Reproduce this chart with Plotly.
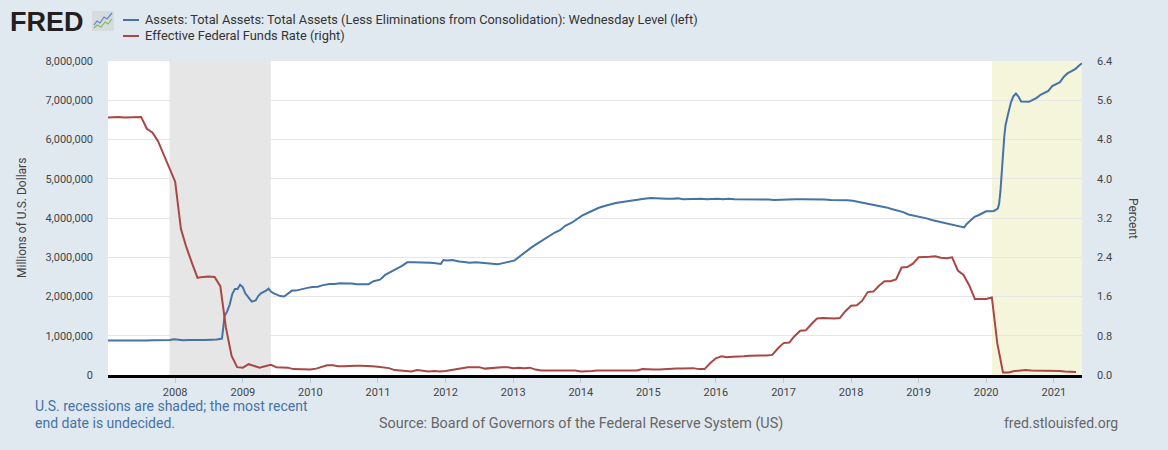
import pandas as pd
import plotly.graph_objects as go

# ---------------- data ----------------
asset_dates = [
    "2007-01-03", "2007-02-07", "2007-03-07", "2007-04-04", "2007-05-02", "2007-06-06",
    "2007-07-04", "2007-08-01", "2007-09-05", "2007-10-03", "2007-11-07", "2007-12-05", "2007-12-26",
    "2008-01-16", "2008-02-13", "2008-03-12", "2008-04-16", "2008-05-14", "2008-06-11",
    "2008-07-16", "2008-08-13", "2008-09-10", "2008-09-17", "2008-09-24", "2008-10-08",
    "2008-10-22", "2008-11-05", "2008-11-19", "2008-12-03", "2008-12-17", "2008-12-31",
    "2009-01-14", "2009-02-04", "2009-02-18", "2009-03-11", "2009-03-25", "2009-04-08",
    "2009-04-22", "2009-05-06", "2009-05-20", "2009-06-03", "2009-06-17", "2009-07-01",
    "2009-07-22", "2009-08-12", "2009-09-02", "2009-09-23", "2009-10-14", "2009-11-04",
    "2009-11-25", "2009-12-16",
    "2010-01-13", "2010-02-10", "2010-03-10", "2010-04-14", "2010-05-12", "2010-06-09",
    "2010-07-14", "2010-08-11", "2010-09-08", "2010-10-13", "2010-11-10", "2010-12-08",
    "2011-01-12", "2011-02-09", "2011-03-09", "2011-04-13", "2011-05-11", "2011-06-08",
    "2011-07-13", "2011-08-10", "2011-09-14", "2011-10-12", "2011-11-09", "2011-12-07", "2011-12-21",
    "2012-01-11", "2012-02-08", "2012-03-14", "2012-04-11", "2012-05-09", "2012-06-13",
    "2012-07-11", "2012-08-08", "2012-09-12", "2012-10-10", "2012-11-07", "2012-12-12",
    "2013-01-09", "2013-02-13", "2013-03-13", "2013-04-10", "2013-05-15", "2013-06-12",
    "2013-07-10", "2013-08-14", "2013-09-11", "2013-10-09", "2013-11-13", "2013-12-11",
    "2014-01-08", "2014-02-12", "2014-03-12", "2014-04-09", "2014-05-14", "2014-06-11",
    "2014-07-09", "2014-08-13", "2014-09-10", "2014-10-08", "2014-11-12", "2014-12-10",
    "2015-01-14", "2015-02-11", "2015-03-11", "2015-04-08", "2015-05-13", "2015-06-10",
    "2015-07-08", "2015-08-12", "2015-09-09", "2015-10-14", "2015-11-11", "2015-12-09",
    "2016-01-13", "2016-02-10", "2016-03-09", "2016-04-13", "2016-05-11", "2016-06-08",
    "2016-07-13", "2016-08-10", "2016-09-14", "2016-10-12", "2016-11-09", "2016-12-14",
    "2017-01-11", "2017-02-08", "2017-03-08", "2017-04-12", "2017-05-10", "2017-06-14",
    "2017-07-12", "2017-08-09", "2017-09-13", "2017-10-11", "2017-11-08", "2017-12-13",
    "2018-01-10", "2018-02-14", "2018-03-14", "2018-04-11", "2018-05-09", "2018-06-13",
    "2018-07-11", "2018-08-08", "2018-09-12", "2018-10-10", "2018-11-07", "2018-12-12",
    "2019-01-09", "2019-02-13", "2019-03-13", "2019-04-10", "2019-05-08", "2019-06-12",
    "2019-07-10", "2019-08-14", "2019-09-04", "2019-09-18", "2019-10-09", "2019-10-30",
    "2019-11-20", "2019-12-11", "2020-01-01", "2020-01-22", "2020-02-12", "2020-03-04",
    "2020-03-11", "2020-03-18", "2020-03-25", "2020-04-01", "2020-04-08", "2020-04-15",
    "2020-04-22", "2020-04-29", "2020-05-13", "2020-05-27", "2020-06-10", "2020-06-24",
    "2020-07-08", "2020-07-29", "2020-08-19", "2020-09-09", "2020-09-30", "2020-10-21",
    "2020-11-11", "2020-12-02", "2020-12-23", "2021-01-13", "2021-02-03", "2021-02-24",
    "2021-03-17", "2021-04-07", "2021-04-28", "2021-05-19", "2021-06-02",
]
total_assets = [  # millions of U.S. dollars
    877000, 871000, 876000, 882000, 878000, 880000,
    884000, 879000, 884000, 881000, 885000, 891000, 910000,
    893000, 888000, 890000, 886000, 892000, 894000,
    899000, 903000, 928000, 1230000, 1500000, 1620000,
    1800000, 2070000, 2190000, 2190000, 2300000, 2240000,
    2080000, 1950000, 1870000, 1900000, 2010000, 2080000,
    2110000, 2150000, 2200000, 2120000, 2080000, 2060000,
    2010000, 2000000, 2080000, 2150000, 2150000, 2180000,
    2200000, 2220000,
    2240000, 2250000, 2290000, 2320000, 2320000, 2340000,
    2330000, 2330000, 2310000, 2300000, 2310000, 2390000,
    2430000, 2550000, 2630000, 2710000, 2780000, 2870000,
    2870000, 2870000, 2860000, 2860000, 2850000, 2830000, 2930000,
    2920000, 2930000, 2890000, 2880000, 2860000, 2870000,
    2860000, 2850000, 2830000, 2820000, 2850000, 2880000,
    2920000, 3050000, 3160000, 3250000, 3360000, 3450000,
    3540000, 3630000, 3690000, 3800000, 3880000, 3980000,
    4060000, 4140000, 4200000, 4260000, 4310000, 4350000,
    4380000, 4410000, 4430000, 4460000, 4480000, 4490000,
    4510000, 4500000, 4490000, 4490000, 4490000, 4500000,
    4480000, 4490000, 4480000, 4490000, 4480000, 4490000,
    4490000, 4480000, 4490000, 4480000, 4480000, 4470000,
    4480000, 4470000, 4470000, 4470000, 4460000, 4470000,
    4480000, 4490000, 4480000, 4480000, 4480000, 4470000,
    4470000, 4470000, 4460000, 4460000, 4460000, 4450000,
    4440000, 4410000, 4380000, 4360000, 4320000, 4290000,
    4270000, 4230000, 4180000, 4150000, 4090000, 4060000,
    4030000, 3990000, 3950000, 3920000, 3890000, 3850000,
    3810000, 3780000, 3760000, 3850000, 3950000, 4030000,
    4070000, 4120000, 4170000, 4170000, 4180000, 4240000,
    4360000, 4670000, 5250000, 5810000, 6080000, 6370000,
    6570000, 6660000, 6930000, 7100000, 7170000, 7090000,
    6970000, 6960000, 6960000, 7010000, 7060000, 7140000,
    7200000, 7240000, 7360000, 7400000, 7460000, 7600000,
    7690000, 7740000, 7800000, 7890000, 7940000,
]

fedfunds_start = "2007-01-01"
fedfunds = [  # percent, monthly
    5.25, 5.26, 5.26, 5.25, 5.25, 5.25, 5.26, 5.02, 4.94, 4.76, 4.49, 4.24,
    3.94, 2.98, 2.61, 2.28, 1.98, 2.00, 2.01, 2.00, 1.81, 0.97, 0.39, 0.16,
    0.15, 0.22, 0.18, 0.15, 0.18, 0.21, 0.16, 0.16, 0.15, 0.12, 0.12, 0.12,
    0.11, 0.13, 0.16, 0.20, 0.20, 0.18, 0.18, 0.19, 0.19, 0.19, 0.19, 0.18,
    0.17, 0.16, 0.14, 0.10, 0.09, 0.09, 0.07, 0.10, 0.08, 0.07, 0.08, 0.07,
    0.08, 0.10, 0.13, 0.14, 0.16, 0.16, 0.16, 0.13, 0.14, 0.16, 0.16, 0.16,
    0.14, 0.15, 0.14, 0.15, 0.11, 0.09, 0.09, 0.08, 0.08, 0.09, 0.08, 0.09,
    0.07, 0.07, 0.08, 0.09, 0.09, 0.10, 0.09, 0.09, 0.09, 0.09, 0.09, 0.12,
    0.11, 0.11, 0.11, 0.12, 0.12, 0.13, 0.13, 0.14, 0.14, 0.12, 0.12, 0.24,
    0.34, 0.38, 0.36, 0.37, 0.37, 0.38, 0.39, 0.40, 0.40, 0.40, 0.41, 0.54,
    0.65, 0.66, 0.79, 0.90, 0.91, 1.04, 1.15, 1.16, 1.15, 1.15, 1.16, 1.30,
    1.41, 1.42, 1.51, 1.69, 1.70, 1.82, 1.91, 1.91, 1.95, 2.19, 2.20, 2.27,
    2.40, 2.40, 2.41, 2.42, 2.39, 2.38, 2.40, 2.13, 2.04, 1.83, 1.55, 1.55,
    1.55, 1.58, 0.65, 0.05, 0.05, 0.08, 0.09, 0.10, 0.09, 0.09, 0.09, 0.09,
    0.09, 0.08, 0.07, 0.07, 0.06,
]
fedfunds_dates = pd.date_range(fedfunds_start, periods=len(fedfunds), freq="MS")

recessions = [("2007-12-01", "2009-06-01", "#e6e6e6"), ("2020-02-01", "2021-06-02", "#f5f5dc")]
x_range = ["2007-01-03", "2021-06-02"]

name_assets = "Assets: Total Assets: Total Assets (Less Eliminations from Consolidation): Wednesday Level (left)"
name_ff = "Effective Federal Funds Rate (right)"

BLUE = "#4572a7"
RED = "#aa4643"
BG = "#e1e9f0"
FONT = "Roboto"

# layout geometry (pixels)
W, H = 1168, 450
L, R, T, B = 108, 1082, 61, 375


def px(x):
    return (x - L) / (R - L)


def py(y):
    return (B - y) / (B - T)


fig = go.Figure()
fig.add_trace(go.Scatter(x=asset_dates, y=total_assets, name=name_assets, mode="lines",
                         line=dict(color=BLUE, width=2), yaxis="y"))
fig.add_trace(go.Scatter(x=fedfunds_dates, y=fedfunds, name=name_ff, mode="lines",
                         line=dict(color=RED, width=2), yaxis="y2"))

shapes = []
for x0, x1, c in recessions:
    shapes.append(dict(type="rect", xref="x", yref="paper", x0=x0, x1=x1, y0=0, y1=1,
                       fillcolor=c, line=dict(width=0), layer="below"))

# legend samples
shapes.append(dict(type="line", xref="paper", yref="paper", x0=px(123), x1=px(139),
                   y0=py(20), y1=py(20), line=dict(color=BLUE, width=2)))
shapes.append(dict(type="line", xref="paper", yref="paper", x0=px(123), x1=px(139),
                   y0=py(36), y1=py(36), line=dict(color=RED, width=2)))

# FRED logo icon
shapes.append(dict(type="rect", xref="paper", yref="paper", x0=px(92), x1=px(114),
                   y0=py(31), y1=py(11), fillcolor="#d6dbe0", line=dict(width=0)))


def path(pts):
    return "M" + " L".join(f"{px(a):.5f},{py(b):.5f}" for a, b in pts)


shapes.append(dict(type="path", xref="paper", yref="paper",
                   path=path([(94, 25), (97, 21), (100, 23), (104, 17), (107, 19), (112, 13)]),
                   line=dict(color="#5b87c5", width=1.2)))
shapes.append(dict(type="path", xref="paper", yref="paper",
                   path=path([(94, 28), (97, 25), (101, 27), (105, 22), (108, 24), (112, 19)]),
                   line=dict(color="#8dbb5a", width=1.2)))

annotations = [
    dict(text="<b>FRED</b>", x=px(8), y=py(21.5), xref="paper", yref="paper", xanchor="left",
         yanchor="middle", showarrow=False,
         font=dict(family="Liberation Sans", size=27, color="#231f20")),
    dict(text=name_assets, x=px(143), y=py(20), xref="paper", yref="paper", xanchor="left",
         yanchor="middle", showarrow=False, font=dict(family=FONT, size=12.8, color="#333333")),
    dict(text=name_ff, x=px(143), y=py(36), xref="paper", yref="paper", xanchor="left",
         yanchor="middle", showarrow=False, font=dict(family=FONT, size=12.8, color="#333333")),
    dict(text="Millions of U.S. Dollars", x=px(22), y=py(218), xref="paper", yref="paper",
         xanchor="center", yanchor="middle", textangle=-90, showarrow=False,
         font=dict(family=FONT, size=12, color="#444444")),
    dict(text="Percent", x=px(1133), y=py(218), xref="paper", yref="paper",
         xanchor="center", yanchor="middle", textangle=90, showarrow=False,
         font=dict(family=FONT, size=12, color="#444444")),
    dict(text="U.S. recessions are shaded; the most recent", x=px(33), y=py(406),
         xref="paper", yref="paper", xanchor="left", yanchor="middle",
         showarrow=False, font=dict(family=FONT, size=14, color="#4572a7")),
    dict(text="end date is undecided.", x=px(33), y=py(423),
         xref="paper", yref="paper", xanchor="left", yanchor="middle",
         showarrow=False, font=dict(family=FONT, size=14, color="#4572a7")),
    dict(text="Source: Board of Governors of the Federal Reserve System (US)",
         x=px(377), y=py(423), xref="paper", yref="paper", xanchor="left", yanchor="middle",
         showarrow=False, font=dict(family=FONT, size=14.4, color="#666666")),
    dict(text="fred.stlouisfed.org", x=px(1120), y=py(423), xref="paper", yref="paper",
         xanchor="right", yanchor="middle", showarrow=False,
         font=dict(family=FONT, size=14, color="#666666")),
]

fig.update_layout(
    width=W, height=H,
    margin=dict(l=L, r=W - R, t=T, b=H - B, pad=0),
    paper_bgcolor=BG, plot_bgcolor="#ffffff",
    showlegend=False,
    font=dict(family=FONT, size=11, color="#444444"),
    shapes=shapes, annotations=annotations,
    xaxis=dict(type="date", range=x_range, dtick="M12", tick0="2008-01-01", tickformat="%Y",
               showgrid=False, showline=True, linecolor="#000000", linewidth=2.5,
               ticks="outside", ticklen=5, tickcolor="#c0c8d0", tickwidth=1,
               tickfont=dict(size=11, color="#444444"), zeroline=False, fixedrange=True),
    yaxis=dict(range=[0, 8000000], dtick=1000000, tickformat=",d", showgrid=True,
               gridcolor="#e6e6e6", gridwidth=1, zeroline=False, showline=False,
               ticks="", ticklabelstandoff=14, tickfont=dict(size=11, color="#444444")),
    yaxis2=dict(range=[0, 6.4], dtick=0.8, tickformat=".1f", overlaying="y", side="right",
                showgrid=False, zeroline=False, showline=False, ticks="",
                ticklabelstandoff=14, tickfont=dict(size=11, color="#444444")),
)

fig.write_html("out.html", config={"displayModeBar": False},
               post_script="document.body.style.margin='0';")
